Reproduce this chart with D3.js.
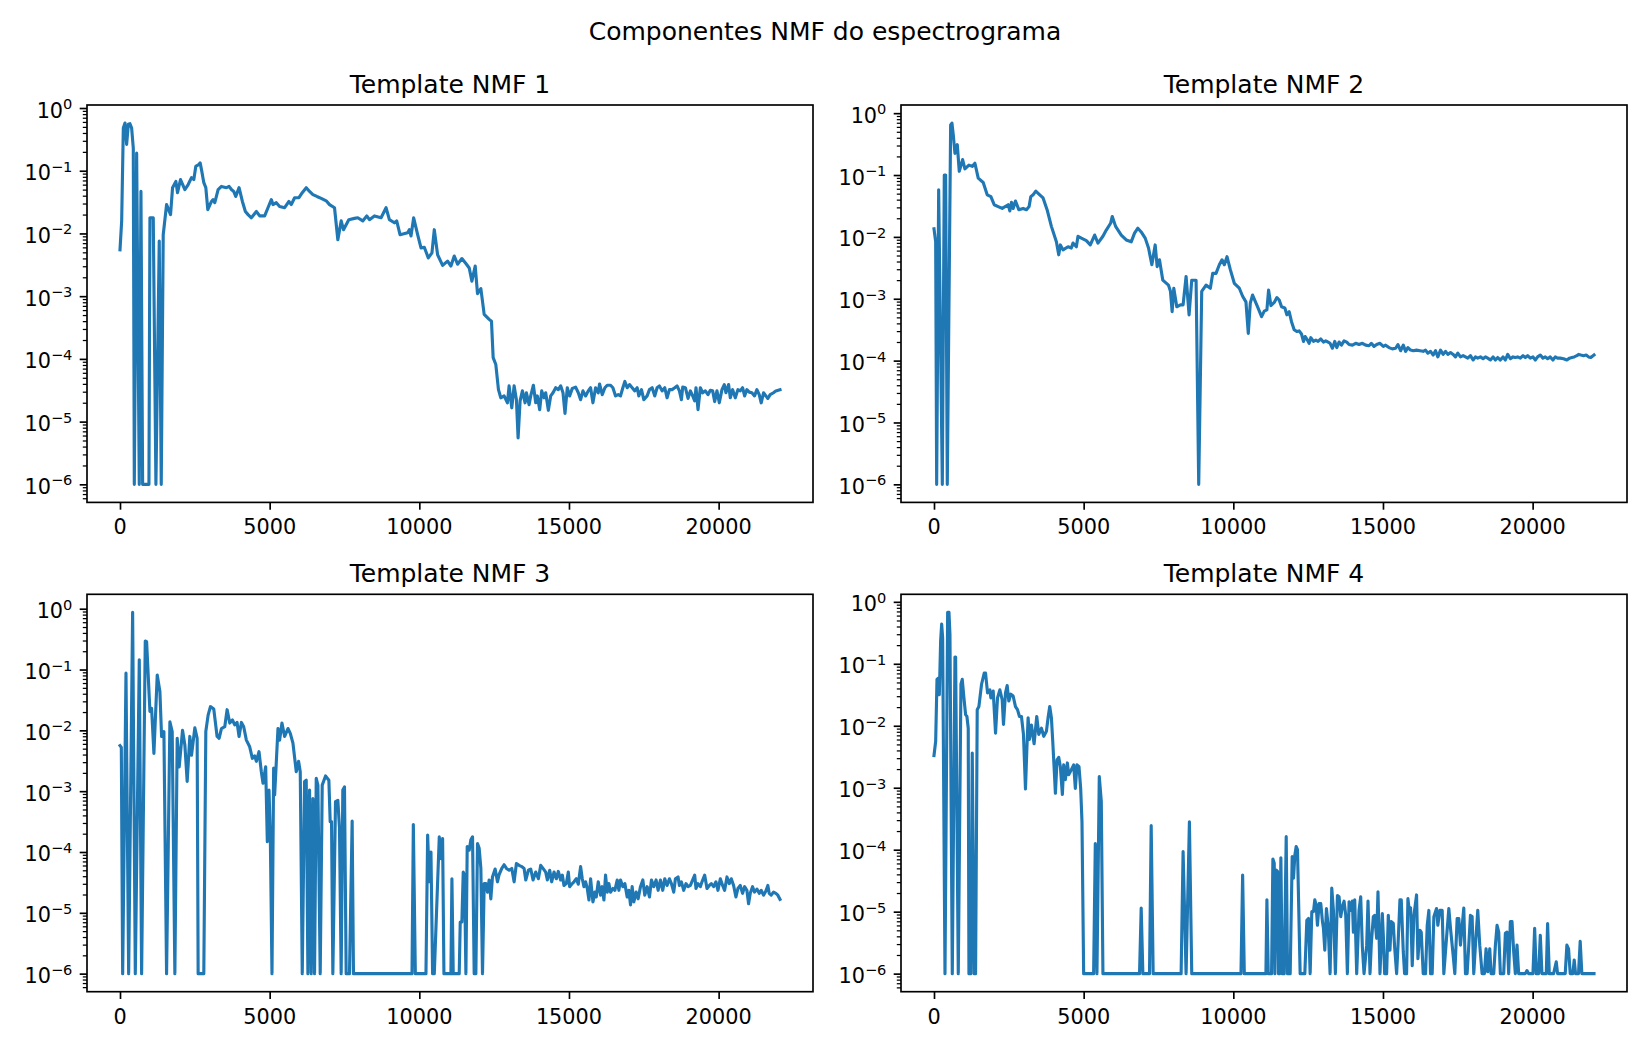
<!DOCTYPE html>
<html>
<head>
<meta charset="utf-8">
<script src="https://cdnjs.cloudflare.com/ajax/libs/d3/7.8.5/d3.min.js"></script>
<style>
  body { margin: 0; background: #fff; }
  svg text { font-family: "DejaVu Sans", sans-serif; fill: #000; }
</style>
</head>
<body>
<div id="chart"></div>
<script>
"use strict";

// === Data: [frequency (Hz), log10(amplitude)] ===
const template1 = [
  [0,-2.26],[56,-1.80],[111,-0.32],[167,-0.24],[222,-0.58],[278,-0.26],[333,-0.25],[389,-0.32],[444,-0.64],[478,-6],
  [556,-0.72],[644,-6],[700,-1.33],[756,-6],[967,-6],[1000,-1.75],[1111,-1.75],[1200,-6],[1311,-2.12],[1378,-6],
  [1444,-2.02],[1556,-1.54],[1689,-1.70],[1756,-1.27],[1867,-1.17],[1922,-1.35],[2022,-1.14],[2167,-1.30],[2278,-1.22],[2389,-1.11],
  [2467,-1.14],[2533,-0.93],[2633,-0.90],[2678,-0.875],[2733,-1.01],[2800,-1.19],[2867,-1.27],[2933,-1.62],[3056,-1.49],[3111,-1.46],
  [3167,-1.51],[3278,-1.30],[3389,-1.25],[3556,-1.27],[3644,-1.25],[3722,-1.30],[3800,-1.33],[3867,-1.41],[3978,-1.27],[4089,-1.49],
  [4189,-1.65],[4278,-1.70],[4389,-1.75],[4556,-1.65],[4667,-1.72],[4833,-1.72],[4944,-1.59],[5056,-1.46],[5111,-1.54],[5222,-1.51],
  [5333,-1.57],[5500,-1.59],[5644,-1.49],[5722,-1.54],[5833,-1.43],[5978,-1.43],[6089,-1.35],[6222,-1.27],[6333,-1.33],[6444,-1.38],
  [6578,-1.41],[6722,-1.44],[6889,-1.48],[7000,-1.54],[7167,-1.59],[7278,-2.10],[7389,-1.80],[7467,-1.94],[7644,-1.78],[7833,-1.76],
  [7944,-1.75],[8111,-1.80],[8244,-1.72],[8333,-1.78],[8500,-1.72],[8722,-1.75],[8889,-1.59],[9000,-1.78],[9167,-1.83],[9244,-1.80],
  [9356,-2.02],[9611,-1.99],[9667,-1.94],[9722,-2.04],[9811,-1.75],[9944,-2.02],[10056,-2.23],[10167,-2.22],[10300,-2.39],[10422,-2.31],
  [10500,-1.94],[10611,-2.34],[10778,-2.51],[10944,-2.44],[11056,-2.52],[11167,-2.36],[11278,-2.49],[11422,-2.40],[11556,-2.48],[11667,-2.55],
  [11756,-2.76],[11867,-2.52],[11944,-2.96],[12056,-2.88],[12167,-3.29],[12333,-3.37],[12411,-3.40],[12467,-3.98],[12556,-4.09],[12644,-4.49],
  [12722,-4.62],[12833,-4.59],[12944,-4.70],[13000,-4.43],[13089,-4.78],[13167,-4.43],[13244,-4.65],[13300,-5.26],[13367,-4.67],[13444,-4.51],
  [13533,-4.70],[13578,-4.54],[13667,-4.73],[13722,-4.59],[13811,-4.42],[13889,-4.70],[13944,-4.59],[14022,-4.81],[14089,-4.51],[14167,-4.62],
  [14222,-4.54],[14311,-4.82],[14389,-4.59],[14467,-4.54],[14556,-4.46],[14644,-4.49],[14722,-4.43],[14800,-4.54],[14867,-4.87],[14944,-4.46],
  [15022,-4.59],[15111,-4.47],[15222,-4.45],[15311,-4.54],[15389,-4.65],[15467,-4.51],[15556,-4.59],[15644,-4.51],[15722,-4.46],[15800,-4.70],
  [15889,-4.46],[15978,-4.54],[16022,-4.40],[16111,-4.57],[16200,-4.46],[16278,-4.42],[16389,-4.42],[16467,-4.46],[16556,-4.59],[16644,-4.57],
  [16722,-4.59],[16800,-4.46],[16867,-4.36],[16944,-4.46],[17022,-4.41],[17111,-4.46],[17200,-4.51],[17278,-4.46],[17333,-4.59],[17422,-4.49],
  [17500,-4.65],[17611,-4.59],[17689,-4.49],[17778,-4.46],[17867,-4.59],[17944,-4.46],[18022,-4.43],[18111,-4.51],[18200,-4.46],[18278,-4.62],
  [18356,-4.49],[18444,-4.49],[18533,-4.46],[18611,-4.43],[18689,-4.51],[18756,-4.65],[18800,-4.45],[18889,-4.46],[18978,-4.63],[19056,-4.51],
  [19133,-4.59],[19200,-4.67],[19244,-4.46],[19311,-4.81],[19389,-4.46],[19467,-4.54],[19556,-4.51],[19644,-4.57],[19722,-4.50],[19800,-4.51],
  [19867,-4.68],[19944,-4.51],[20022,-4.70],[20111,-4.49],[20189,-4.41],[20244,-4.54],[20333,-4.41],[20389,-4.62],[20467,-4.49],[20556,-4.62],
  [20644,-4.49],[20722,-4.51],[20800,-4.46],[20867,-4.59],[20944,-4.49],[21022,-4.53],[21111,-4.54],[21200,-4.59],[21278,-4.49],[21356,-4.57],
  [21422,-4.70],[21500,-4.54],[21578,-4.59],[21644,-4.63],[21722,-4.57],[21833,-4.54],[21911,-4.51],[22050,-4.49]
];

const template2 = [
  [0,-1.87],[56,-2.08],[89,-6],[156,-1.24],[278,-6],[344,-1.00],[389,-1.00],[444,-6],[556,-0.19],[600,-0.16],
  [644,-0.35],[700,-0.65],[778,-0.51],[844,-0.94],[956,-0.75],[1033,-0.90],[1167,-0.84],[1278,-0.86],[1367,-0.81],[1478,-1.05],
  [1644,-1.12],[1778,-1.32],[1900,-1.35],[2011,-1.48],[2144,-1.51],[2278,-1.54],[2478,-1.48],[2533,-1.58],[2589,-1.44],[2644,-1.54],
  [2722,-1.42],[2833,-1.56],[2978,-1.54],[3089,-1.56],[3178,-1.51],[3233,-1.35],[3311,-1.32],[3400,-1.26],[3533,-1.32],[3644,-1.37],
  [3778,-1.56],[3922,-1.83],[4089,-2.08],[4167,-2.29],[4222,-2.13],[4311,-2.21],[4478,-2.16],[4589,-2.18],[4644,-2.10],[4756,-2.16],
  [4811,-1.99],[4922,-2.02],[5089,-2.06],[5222,-2.13],[5367,-1.97],[5478,-2.10],[5644,-1.99],[5756,-1.89],[5900,-1.78],[5956,-1.67],
  [6067,-1.83],[6256,-1.97],[6422,-2.05],[6589,-2.08],[6700,-1.94],[6811,-1.86],[6922,-1.92],[7056,-2.02],[7167,-2.18],[7278,-2.45],
  [7389,-2.13],[7456,-2.48],[7533,-2.37],[7644,-2.70],[7833,-2.78],[7900,-2.88],[7956,-3.21],[8011,-2.83],[8111,-3.13],[8233,-3.10],
  [8322,-3.10],[8422,-2.64],[8522,-3.26],[8611,-2.70],[8756,-2.70],[8844,-6],[8944,-2.88],[9089,-2.78],[9233,-2.83],[9311,-2.59],
  [9422,-2.59],[9533,-2.45],[9622,-2.37],[9700,-2.45],[9789,-2.32],[9900,-2.53],[10033,-2.75],[10200,-2.83],[10311,-2.96],[10422,-3.05],
  [10500,-3.56],[10567,-3.07],[10644,-2.94],[10811,-3.13],[10944,-3.29],[11033,-3.20],[11122,-3.18],[11178,-2.86],[11256,-3.11],[11367,-3.06],
  [11456,-2.98],[11533,-3.02],[11611,-3.13],[11722,-3.15],[11789,-3.26],[11867,-3.21],[11944,-3.37],[12033,-3.50],[12122,-3.53],[12200,-3.52],
  [12278,-3.57],[12344,-3.69],[12400,-3.61],[12478,-3.67],[12533,-3.72],[12589,-3.63],[12678,-3.69],[12756,-3.67],[12833,-3.69],[12922,-3.65],
  [13011,-3.70],[13089,-3.68],[13167,-3.70],[13233,-3.72],[13311,-3.80],[13389,-3.69],[13456,-3.79],[13533,-3.70],[13611,-3.75],[13700,-3.68],
  [13789,-3.70],[13867,-3.74],[13978,-3.75],[14089,-3.72],[14200,-3.74],[14311,-3.72],[14422,-3.75],[14533,-3.76],[14611,-3.72],[14700,-3.77],
  [14789,-3.74],[14900,-3.72],[15011,-3.77],[15089,-3.75],[15200,-3.79],[15311,-3.81],[15422,-3.80],[15500,-3.74],[15589,-3.84],[15678,-3.75],
  [15756,-3.85],[15833,-3.79],[15922,-3.83],[16011,-3.84],[16122,-3.83],[16233,-3.84],[16344,-3.85],[16422,-3.83],[16500,-3.88],[16589,-3.85],
  [16678,-3.91],[16756,-3.84],[16833,-3.94],[16922,-3.83],[17011,-3.90],[17089,-3.85],[17167,-3.90],[17256,-3.87],[17344,-3.90],[17422,-3.94],
  [17500,-3.88],[17589,-3.94],[17678,-3.92],[17756,-3.94],[17833,-3.96],[17922,-3.92],[18011,-3.99],[18089,-3.94],[18167,-3.96],[18256,-3.94],
  [18344,-3.97],[18422,-3.94],[18500,-3.96],[18589,-3.99],[18678,-3.94],[18756,-3.99],[18833,-3.95],[18922,-3.99],[19011,-3.94],[19089,-3.99],
  [19167,-3.90],[19256,-3.97],[19344,-3.94],[19422,-3.95],[19500,-3.94],[19589,-3.96],[19678,-3.92],[19756,-3.95],[19833,-3.92],[19922,-3.96],
  [20011,-3.94],[20089,-3.99],[20167,-3.94],[20256,-3.91],[20344,-3.96],[20422,-3.94],[20500,-3.97],[20589,-3.94],[20678,-3.99],[20756,-3.94],
  [20833,-3.96],[20922,-3.96],[21033,-3.97],[21144,-3.99],[21233,-3.96],[21311,-3.95],[21389,-3.94],[21478,-3.92],[21533,-3.90],[21611,-3.91],
  [21700,-3.92],[21789,-3.91],[21867,-3.94],[21944,-3.95],[22050,-3.91]
];

const template3 = [
  [0,-2.25],[44,-2.28],[89,-6],[200,-1.06],[289,-6],[422,-0.06],[511,-6],[644,-0.84],[722,-6],[844,-0.53],
  [889,-0.54],[1000,-1.69],[1056,-1.64],[1133,-2.38],[1244,-1.09],[1333,-1.36],[1389,-2.10],[1467,-2.02],[1556,-6],[1667,-1.86],
  [1744,-2.02],[1833,-6],[1911,-2.13],[1978,-2.60],[2089,-2.00],[2167,-2.24],[2244,-2.84],[2333,-2.10],[2389,-2.41],[2500,-1.96],
  [2578,-2.13],[2611,-6],[2800,-6],[2867,-2.02],[2944,-1.75],[3022,-1.61],[3133,-1.65],[3244,-2.10],[3311,-2.13],[3389,-1.97],
  [3500,-1.94],[3578,-1.66],[3667,-1.88],[3756,-1.83],[3833,-1.91],[3911,-1.87],[3978,-2.10],[4056,-1.87],[4133,-1.94],[4222,-2.16],
  [4333,-2.27],[4422,-2.46],[4500,-2.42],[4556,-2.51],[4644,-2.35],[4722,-2.68],[4778,-2.87],[4867,-2.60],[4922,-3.83],[4978,-2.98],
  [5022,-3.75],[5078,-6],[5133,-2.62],[5167,-3.06],[5278,-1.97],[5333,-2.16],[5411,-1.88],[5500,-2.10],[5611,-1.97],[5689,-2.05],
  [5778,-2.21],[5889,-2.68],[5967,-2.51],[6022,-2.68],[6089,-6],[6167,-2.84],[6222,-2.82],[6278,-6],[6333,-2.98],[6389,-6],
  [6444,-3.12],[6500,-6],[6556,-2.79],[6611,-2.90],[6689,-6],[6756,-2.90],[6867,-2.75],[6978,-2.82],[7022,-3.50],[7067,-3.50],
  [7111,-6],[7200,-3.17],[7278,-3.15],[7333,-3.61],[7389,-6],[7444,-2.98],[7500,-2.93],[7556,-6],[7667,-6],[7756,-3.49],
  [7800,-6],[9756,-6],[9800,-3.55],[9867,-6],[10222,-6],[10278,-3.72],[10333,-4.49],[10389,-4.00],[10444,-6],[10500,-6],
  [10667,-3.75],[10722,-4.11],[10778,-3.78],[10822,-6],[11056,-6],[11089,-4.44],[11133,-6],[11333,-6],[11367,-5.15],[11422,-5.15],
  [11467,-4.33],[11511,-4.38],[11556,-6],[11600,-3.91],[11667,-3.97],[11722,-3.80],[11778,-3.75],[11833,-6],[11889,-6],[11944,-3.86],
  [12000,-3.94],[12056,-4.27],[12111,-6],[12167,-4.52],[12222,-4.52],[12278,-4.66],[12333,-4.46],[12389,-4.77],[12444,-4.41],[12533,-4.28],
  [12611,-4.49],[12667,-4.37],[12756,-4.27],[12833,-4.21],[12911,-4.27],[13000,-4.30],[13089,-4.27],[13167,-4.49],[13244,-4.19],[13333,-4.22],
  [13422,-4.24],[13500,-4.27],[13556,-4.46],[13644,-4.30],[13722,-4.28],[13800,-4.46],[13889,-4.33],[13978,-4.44],[14056,-4.22],[14133,-4.27],
  [14222,-4.33],[14278,-4.46],[14356,-4.30],[14422,-4.49],[14500,-4.33],[14578,-4.44],[14644,-4.32],[14722,-4.46],[14778,-4.38],[14833,-4.55],
  [14911,-4.52],[14978,-4.33],[15022,-4.57],[15089,-4.53],[15167,-4.49],[15244,-4.44],[15311,-4.53],[15389,-4.24],[15444,-4.44],[15500,-4.57],
  [15556,-4.49],[15611,-4.60],[15667,-4.79],[15722,-4.44],[15800,-4.82],[15867,-4.66],[15911,-4.74],[15978,-4.49],[16056,-4.71],[16111,-4.57],
  [16167,-4.79],[16222,-4.38],[16278,-4.66],[16333,-4.52],[16389,-4.66],[16467,-4.60],[16533,-4.63],[16611,-4.46],[16667,-4.63],[16722,-4.46],
  [16800,-4.57],[16867,-4.52],[16944,-4.74],[17000,-4.63],[17056,-4.87],[17111,-4.57],[17167,-4.82],[17244,-4.66],[17311,-4.77],[17389,-4.57],
  [17467,-4.46],[17533,-4.71],[17611,-4.57],[17689,-4.74],[17756,-4.46],[17833,-4.57],[17911,-4.46],[17978,-4.63],[18056,-4.46],[18133,-4.63],
  [18200,-4.44],[18278,-4.55],[18356,-4.44],[18422,-4.52],[18500,-4.66],[18556,-4.44],[18644,-4.41],[18689,-4.55],[18756,-4.49],[18833,-4.63],
  [18911,-4.52],[18978,-4.57],[19056,-4.55],[19133,-4.46],[19200,-4.38],[19244,-4.60],[19311,-4.52],[19389,-4.57],[19444,-4.49],[19533,-4.38],
  [19611,-4.60],[19689,-4.55],[19756,-4.52],[19833,-4.57],[19911,-4.49],[19978,-4.63],[20056,-4.44],[20133,-4.55],[20200,-4.63],[20278,-4.41],
  [20356,-4.52],[20422,-4.44],[20500,-4.55],[20578,-4.74],[20644,-4.60],[20722,-4.55],[20800,-4.68],[20867,-4.57],[20944,-4.63],[21000,-4.85],
  [21056,-4.68],[21133,-4.57],[21200,-4.66],[21278,-4.61],[21356,-4.68],[21422,-4.63],[21500,-4.71],[21578,-4.64],[21644,-4.55],[21689,-4.68],
  [21756,-4.71],[21833,-4.66],[21911,-4.68],[21978,-4.71],[22050,-4.78]
];

const template4 = [
  [0,-2.48],[56,-2.25],[100,-1.25],[144,-1.23],[178,-1.50],[222,-0.63],[256,-0.36],[289,-0.58],[367,-6],[456,-0.17],
  [500,-0.17],[533,-0.53],[611,-6],[700,-0.89],[722,-0.89],[811,-6],[900,-1.33],[944,-1.25],[1000,-1.55],[1056,-1.82],
  [1100,-1.85],[1144,-2.04],[1167,-6],[1233,-6],[1278,-2.44],[1344,-6],[1389,-6],[1444,-1.74],[1500,-1.69],[1589,-1.33],
  [1678,-1.15],[1722,-1.15],[1789,-1.47],[1867,-1.42],[1900,-1.55],[1978,-1.44],[2056,-2.12],[2122,-1.55],[2200,-1.42],[2278,-1.58],
  [2322,-1.98],[2389,-1.47],[2444,-1.35],[2500,-1.60],[2567,-1.49],[2644,-1.52],[2722,-1.69],[2789,-1.74],[2856,-1.85],[2922,-1.85],
  [2989,-2.14],[3056,-3.02],[3100,-2.41],[3144,-1.87],[3189,-2.22],[3256,-1.99],[3344,-2.29],[3433,-1.85],[3500,-2.14],[3589,-2.04],
  [3667,-2.17],[3756,-2.09],[3811,-1.87],[3867,-1.69],[3922,-1.87],[3967,-2.25],[4022,-2.76],[4056,-3.09],[4111,-2.55],[4167,-2.51],
  [4222,-2.66],[4289,-3.11],[4333,-2.63],[4389,-2.87],[4456,-2.60],[4500,-2.79],[4589,-2.71],[4667,-2.63],[4722,-3.01],[4778,-2.63],
  [4844,-2.66],[4900,-3.01],[4944,-3.55],[5000,-6],[5333,-6],[5389,-3.90],[5444,-6],[5522,-2.82],[5589,-3.22],[5644,-6],
  [6867,-6],[6922,-4.94],[6978,-6],[7200,-6],[7256,-3.61],[7322,-6],[8256,-6],[8322,-4.03],[8422,-6],[8533,-3.55],
  [8611,-6],[10256,-6],[10311,-4.41],[10367,-6],[11089,-6],[11122,-4.81],[11167,-6],[11278,-6],[11322,-4.15],[11367,-4.22],
  [11389,-6],[11433,-4.33],[11478,-4.35],[11511,-6],[11544,-6],[11589,-4.13],[11633,-6],[11700,-6],[11767,-3.79],[11811,-6],
  [11900,-6],[11967,-4.11],[12011,-4.46],[12056,-4.09],[12100,-3.95],[12144,-4.00],[12233,-6],[12389,-6],[12456,-5.14],[12511,-5.11],
  [12567,-6],[12622,-5.00],[12678,-5.00],[12722,-4.81],[12767,-4.89],[12811,-5.22],[12867,-4.87],[12922,-4.87],[12978,-5.16],[13011,-5.27],
  [13056,-5.62],[13111,-4.95],[13167,-5.22],[13233,-6],[13289,-4.62],[13344,-4.98],[13411,-6],[13478,-4.74],[13533,-4.76],[13589,-5.08],
  [13644,-4.92],[13700,-4.83],[13756,-5.06],[13811,-6],[13867,-4.84],[13922,-4.98],[13978,-4.83],[14011,-5.33],[14056,-4.81],[14122,-6],
  [14200,-4.98],[14256,-4.76],[14311,-5.57],[14367,-6],[14456,-5.54],[14500,-4.83],[14567,-6],[14611,-5.51],[14678,-5.08],[14722,-5.06],
  [14789,-5.43],[14833,-4.68],[14900,-6],[14978,-5.03],[15011,-5.38],[15056,-6],[15122,-6],[15178,-5.06],[15233,-5.62],[15278,-5.16],
  [15344,-5.19],[15389,-5.57],[15456,-6],[15500,-5.57],[15567,-4.81],[15611,-4.81],[15678,-5.65],[15722,-6],[15789,-6],[15833,-4.79],
  [15878,-4.98],[15922,-4.94],[15978,-5.87],[16033,-5.06],[16122,-4.73],[16167,-5.76],[16233,-5.30],[16278,-5.33],[16344,-6],[16422,-6],
  [16478,-5.22],[16533,-4.98],[16589,-6],[16644,-6],[16700,-5.08],[16789,-4.95],[16833,-5.22],[16900,-4.98],[16978,-4.98],[17033,-6],
  [17122,-5.43],[17200,-4.95],[17256,-5.27],[17344,-5.70],[17400,-6],[17478,-5.11],[17533,-5.11],[17589,-5.54],[17644,-5.24],[17700,-4.94],
  [17756,-6],[17811,-6],[17867,-5.54],[17922,-5.06],[17978,-5.08],[18033,-6],[18089,-5.54],[18167,-4.98],[18233,-5.54],[18311,-6],
  [18389,-6],[18444,-5.60],[18500,-5.97],[18567,-5.60],[18611,-6],[18700,-6],[18756,-5.54],[18811,-5.22],[18867,-5.33],[18922,-6],
  [19033,-6],[19089,-5.35],[19144,-5.33],[19200,-6],[19256,-5.16],[19311,-5.16],[19367,-5.65],[19422,-6],[19478,-5.54],[19533,-6],
  [19756,-6],[19811,-5.95],[19867,-6],[20011,-6],[20067,-5.27],[20122,-6],[20200,-6],[20256,-5.38],[20311,-6],[20456,-6],
  [20500,-5.19],[20556,-6],[20700,-6],[20789,-5.81],[20833,-6],[21089,-6],[21144,-5.54],[21200,-5.60],[21256,-6],[21344,-6],
  [21389,-5.78],[21433,-6],[21533,-6],[21589,-5.48],[21644,-6],[22050,-6]
];

const titles = ["Template NMF 1", "Template NMF 2", "Template NMF 3", "Template NMF 4"];
const xTicks = [0, 5000, 10000, 15000, 20000];
const yTickExps = [0, -1, -2, -3, -4, -5, -6];
const suptitle = "Componentes NMF do espectrograma";

// === Figure setup (matplotlib-like, 11x7 in at 150 dpi) ===
const svgWidth = 1650, svgHeight = 1050;
const panelW = 726, panelH = 397.4;
const panels = [
  { left: 87, top: 105 }, { left: 901, top: 105 },
  { left: 87, top: 594.3 }, { left: 901, top: 594.3 }
];
const lineColor = "#1f77b4";
const tickFont = 20.8, titleFont = 25;

const svg = d3.select("#chart")
  .append("svg")
  .attr("width", svgWidth)
  .attr("height", svgHeight);

svg.append("rect").attr("width", svgWidth).attr("height", svgHeight).attr("fill", "#fff");

svg.append("text")
  .attr("x", svgWidth / 2)
  .attr("y", 40)
  .attr("text-anchor", "middle")
  .attr("font-size", titleFont)
  .text(suptitle);

const series = [template1, template2, template3, template4];

series.forEach((data, i) => {
  const p = panels[i];
  const g = svg.append("g").attr("transform", `translate(${p.left},${p.top})`);

  // x: linear with 5% margins
  const [x0, x1] = d3.extent(data, d => d[0]);
  const xPad = 0.05 * (x1 - x0);
  const xScale = d3.scaleLinear().domain([x0 - xPad, x1 + xPad]).range([0, panelW]);

  // y: log with 5% margins in decades
  const [e0, e1] = d3.extent(data, d => d[1]);
  const ePad = 0.05 * (e1 - e0);
  const yScale = d3.scaleLog()
    .domain([Math.pow(10, e0 - ePad), Math.pow(10, e1 + ePad)])
    .range([panelH, 0]);

  // line
  const line = d3.line()
    .x(d => xScale(d[0]))
    .y(d => yScale(Math.pow(10, d[1])));

  g.append("path")
    .datum(data)
    .attr("d", line)
    .attr("fill", "none")
    .attr("stroke", lineColor)
    .attr("stroke-width", 3.125)
    .attr("stroke-linejoin", "round")
    .attr("stroke-linecap", "square");

  // x axis ticks
  const xAxis = g.append("g")
    .attr("transform", `translate(0,${panelH})`)
    .call(d3.axisBottom(xScale).tickValues(xTicks).tickSize(7.3).tickFormat(""));
  xAxis.select(".domain").remove();
  xAxis.selectAll(".tick line").attr("stroke", "#000").attr("stroke-width", 1.67);

  xTicks.forEach(t => {
    g.append("text")
      .attr("x", xScale(t))
      .attr("y", panelH + 32)
      .attr("text-anchor", "middle")
      .attr("font-size", tickFont)
      .text(t);
  });

  // y axis major + minor ticks
  const [d0, d1] = yScale.domain();
  const majors = yTickExps.map(e => Math.pow(10, e)).filter(v => v >= d0 && v <= d1);
  const minors = [];
  for (let e = -7; e <= 0; e++) {
    for (let m = 2; m <= 9; m++) {
      const v = m * Math.pow(10, e);
      if (v >= d0 && v <= d1) minors.push(v);
    }
  }

  const yMinor = g.append("g")
    .call(d3.axisLeft(yScale).tickValues(minors).tickSize(4.2).tickFormat(""));
  yMinor.select(".domain").remove();
  yMinor.selectAll(".tick line").attr("stroke", "#000").attr("stroke-width", 1.25);

  const yMajor = g.append("g")
    .call(d3.axisLeft(yScale).tickValues(majors).tickSize(7.3).tickFormat(""));
  yMajor.select(".domain").remove();
  yMajor.selectAll(".tick line").attr("stroke", "#000").attr("stroke-width", 1.67);

  yTickExps.forEach(e => {
    const v = Math.pow(10, e);
    if (v < d0 || v > d1) return;
    const label = g.append("text")
      .attr("x", -14.6)
      .attr("y", yScale(v) + 9.5)
      .attr("text-anchor", "end")
      .attr("font-size", tickFont);
    label.append("tspan").text("10");
    label.append("tspan")
      .attr("dy", -8.5)
      .attr("font-size", 14.6)
      .text(e < 0 ? "\u2212" + Math.abs(e) : String(e));
  });

  // spines
  g.append("rect")
    .attr("width", panelW)
    .attr("height", panelH)
    .attr("fill", "none")
    .attr("stroke", "#000")
    .attr("stroke-width", 1.67);

  // title
  g.append("text")
    .attr("x", panelW / 2)
    .attr("y", -12.5)
    .attr("text-anchor", "middle")
    .attr("font-size", titleFont)
    .text(titles[i]);
});
</script>
</body>
</html>
